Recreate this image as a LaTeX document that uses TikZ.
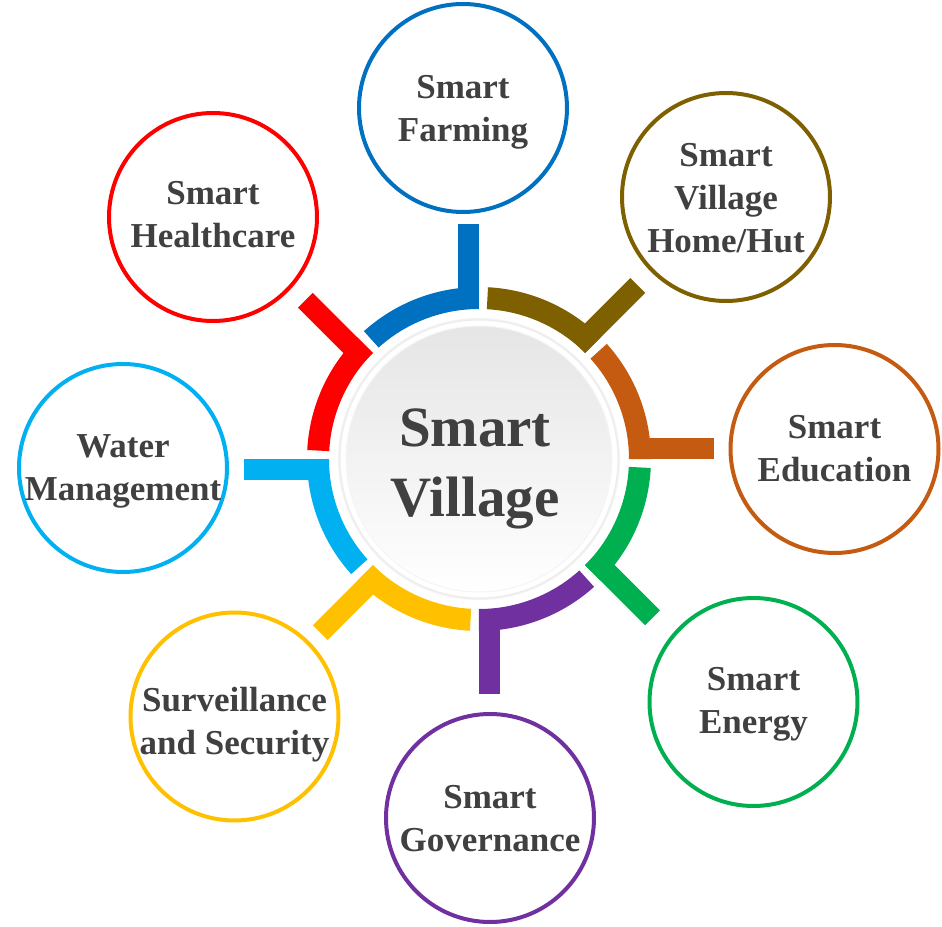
\documentclass[tikz,border=0pt]{standalone}
\usepackage{fontspec}
\setmainfont{Liberation Serif}
\usepackage{tikz}
\usetikzlibrary{positioning}
\usepackage{xcolor}

\definecolor{azul}{HTML}{0070C0}
\definecolor{cafe}{HTML}{7F6000}
\definecolor{naranja}{HTML}{C55A11}
\definecolor{verde}{HTML}{00B050}
\definecolor{morado}{HTML}{7030A0}
\definecolor{amarillo}{HTML}{FFC000}
\definecolor{celeste}{HTML}{00B0F0}
\definecolor{rojo}{HTML}{FF0000}
\definecolor{texto}{HTML}{404040}

\begin{document}
\begin{tikzpicture}[x=1pt, y=1pt,
  bubble/.style={circle, draw=#1, line width=4pt, minimum size=208pt, inner sep=0pt},
  lbl/.style={align=center, text=texto, inner sep=0pt, font=\fontsize{35}{43}\selectfont\bfseries}
]
\useasboundingbox (-479,-467) rectangle (463,459);

% -------- Anillo de colores --------
\foreach \ang/\col in {90/azul, 45/cafe, 0/naranja, -45/verde, -90/morado, -135/amarillo, 180/celeste, 135/rojo}{
  \begin{scope}[rotate=\ang]
    \fill[\col] (0:150) arc[start angle=0, end angle=42, radius=150]
      -- (42:172) arc[start angle=42, end angle=0, radius=172] -- cycle;
    \fill[\col] (150,0) rectangle (235,21);
  \end{scope}
}

% -------- Circulo central --------
\fill[gray!10] (0,0) circle (141);
\node[circle, minimum size=278pt, inner sep=0pt, fill=white, draw=gray!15, line width=1pt] (rim) at (0,0) {};
\node[circle, minimum size=266pt, inner sep=0pt, top color=gray!20, bottom color=white, draw=gray!8, line width=1pt] (hub) at (0,0) {};
\node[align=center, text=texto, inner sep=0pt, font=\fontsize{57}{70}\selectfont\bfseries] (hub-t) at (-4,-10) {Smart\\Village};

% -------- Circulos exteriores --------
\node[bubble=azul] (farm) at (-16,351) {};
\node[bubble=cafe] (home) at (247,262) {};
\node[bubble=naranja] (edu) at (355.5,10) {};
\node[bubble=verde] (energy) at (274.5,-243) {};
\node[bubble=morado] (gov) at (11,-359) {};
\node[bubble=amarillo] (secu) at (-244.5,-257.5) {};
\node[bubble=celeste] (water) at (-356,-9) {};
\node[bubble=rojo] (health) at (-266,242) {};

% Textos
\node[lbl, yshift=-4.5pt] (farm-t) at (farm) {Smart\\Farming};
\node[lbl, yshift=-1pt] (home-t) at (home) {Smart\\Village\\Home/Hut};
\node[lbl] (edu-t) at (edu) {Smart\\Education};
\node[lbl, yshift=-2.5pt] (energy-t) at (energy) {Smart\\Energy};
\node[lbl, yshift=-1pt] (gov-t) at (gov) {Smart\\Governance};
\node[lbl, yshift=-8pt] (secu-t) at (secu) {Surveillance\\and Security};
\node[lbl, yshift=-3pt] (water-t) at (water) {Water\\Management};
\node[lbl, yshift=2.5pt] (health-t) at (health) {Smart\\Healthcare};

\end{tikzpicture}
\end{document}
